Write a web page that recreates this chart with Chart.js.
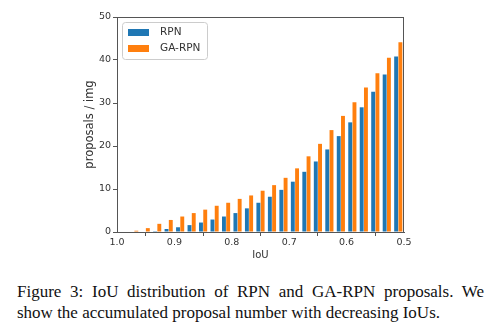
<!DOCTYPE html>
<html>
<head>
<meta charset="utf-8">
<script src="https://cdn.jsdelivr.net/npm/chart.js@4/dist/chart.umd.min.js"></script>
<style>
  html, body { margin: 0; padding: 0; background: #fff; }
  body { width: 496px; height: 330px; position: relative; overflow: hidden; }
  #miGrafico { position: absolute; left: 0; top: 0; }
  .caption { position: absolute; left: 17px; width: 467px; font-family: "Liberation Serif", serif; font-size: 17px; color: #111; line-height: 21px; white-space: nowrap; }
  #linea1 { top: 281px; text-align: justify; text-align-last: justify; }
  #linea2 { top: 302px; }
</style>
</head>
<body>
<canvas id="miGrafico" width="496" height="265"></canvas>
<div class="caption" id="linea1">Figure 3: IoU distribution of RPN and GA-RPN proposals. We</div>
<div class="caption" id="linea2">show the accumulated proposal number with decreasing IoUs.</div>
<script>
// centros de cada intervalo de IoU (ancho 0.02)
let centrosIoU = [0.99, 0.97, 0.95, 0.93, 0.91, 0.89, 0.87, 0.85, 0.83, 0.81,
                  0.79, 0.77, 0.75, 0.73, 0.71, 0.69, 0.67, 0.65, 0.63, 0.61,
                  0.59, 0.57, 0.55, 0.53, 0.51];
let valoresRPN = [0, 0, 0, 0.2, 0.7, 1.1, 1.6, 2.2, 2.9, 3.6,
                  4.4, 5.5, 6.8, 8.2, 9.8, 11.7, 14.0, 16.4, 19.2, 22.3,
                  25.5, 29.0, 32.6, 36.6, 40.8];
let valoresGARPN = [0, 0.3, 0.9, 1.9, 2.8, 3.6, 4.4, 5.2, 6.1, 6.8,
                    7.7, 8.5, 9.6, 10.9, 12.6, 14.8, 17.6, 20.5, 23.7, 27.0,
                    30.2, 33.6, 36.9, 40.5, 44.1];
let etiquetasY = [0, 10, 20, 30, 40, 50];
let etiquetasX = [1.0, 0.9, 0.8, 0.7, 0.6, 0.5];

let fuente = '"DejaVu Sans", sans-serif';
let colorTexto = '#333';
let colorEje = '#555';

// marco completo alrededor del area (estilo matplotlib)
let marco = {
    id: 'marco',
    afterDatasetsDraw: (chart) => {
        let ctx = chart.ctx;
        let a = chart.chartArea;
        ctx.save();
        ctx.strokeStyle = colorEje;
        ctx.lineWidth = 1;
        ctx.strokeRect(Math.round(a.left) + 0.5, Math.round(a.top) + 0.5,
                       Math.round(a.right - a.left) - 1, Math.round(a.bottom - a.top));
        ctx.restore();
    }
};

// leyenda dentro del grafico, arriba a la izquierda
let leyenda = {
    id: 'leyenda',
    afterDraw: (chart) => {
        let ctx = chart.ctx;
        let a = chart.chartArea;
        let x = a.left + 5, y = a.top + 5, w = 85, h = 37;
        ctx.save();
        ctx.fillStyle = 'rgba(255,255,255,0.8)';
        ctx.strokeStyle = '#ccc';
        ctx.lineWidth = 1;
        ctx.beginPath();
        ctx.roundRect(x + 0.5, y + 0.5, w, h, 3);
        ctx.fill();
        ctx.stroke();
        ctx.font = '10.5px ' + fuente;
        ctx.textBaseline = 'middle';
        chart.data.datasets.forEach((ds, i) => {
            let cy = y + 10 + i * 16;
            ctx.fillStyle = ds.backgroundColor;
            ctx.fillRect(x + 6, cy - 3, 21, 7);
            ctx.fillStyle = colorTexto;
            ctx.fillText(ds.label, x + 38, cy);
        });
        ctx.restore();
    }
};

let dibujarChart = () => {
    let ctx = document.getElementById('miGrafico').getContext('2d');
    new Chart(ctx, {
        type: 'bar',
        data: {
            datasets: [{
                label: 'RPN',
                data: centrosIoU.map((c, i) => ({ x: c, y: valoresRPN[i] })),
                backgroundColor: '#1f77b4'
            }, {
                label: 'GA-RPN',
                data: centrosIoU.map((c, i) => ({ x: c, y: valoresGARPN[i] })),
                backgroundColor: '#ff7f0e'
            }]
        },
        plugins: [marco, leyenda],
        options: {
            responsive: false,
            animation: false,
            categoryPercentage: 0.74,
            barPercentage: 0.92,
            layout: { padding: { left: 80, top: 17, right: 92, bottom: 0 } },
            plugins: {
                legend: { display: false },
                tooltip: { enabled: false }
            },
            scales: {
                x: {
                    type: 'linear',
                    reverse: true,
                    min: 0.5,
                    max: 1.0,
                    offset: false,
                    afterFit: (s) => { s.height = 33; },
                    afterBuildTicks: (s) => { s.ticks = etiquetasX.map(v => ({ value: v })); },
                    ticks: {
                        color: colorTexto,
                        font: { family: fuente, size: 9.5 },
                        padding: 1,
                        maxRotation: 0,
                        callback: (v) => Number(v).toFixed(1)
                    },
                    grid: { drawOnChartArea: false, drawTicks: true, tickLength: 4, color: colorEje },
                    border: { color: colorEje },
                    title: { display: true, text: 'IoU', color: colorTexto, font: { family: fuente, size: 10 }, padding: { top: 2, bottom: 4 } }
                },
                y: {
                    min: 0,
                    max: 50,
                    afterFit: (s) => { s.width = 37; },
                    afterBuildTicks: (s) => { s.ticks = etiquetasY.map(v => ({ value: v })); },
                    ticks: {
                        color: colorTexto,
                        font: { family: fuente, size: 9.5 },
                        padding: 2
                    },
                    grid: { drawOnChartArea: false, drawTicks: true, tickLength: 4, color: colorEje },
                    border: { color: colorEje },
                    title: { display: true, text: 'proposals / img', color: colorTexto, font: { family: fuente, size: 11.5 }, padding: { top: 3, bottom: 2 } }
                }
            }
        }
    });
};

dibujarChart();
</script>
</body>
</html>
